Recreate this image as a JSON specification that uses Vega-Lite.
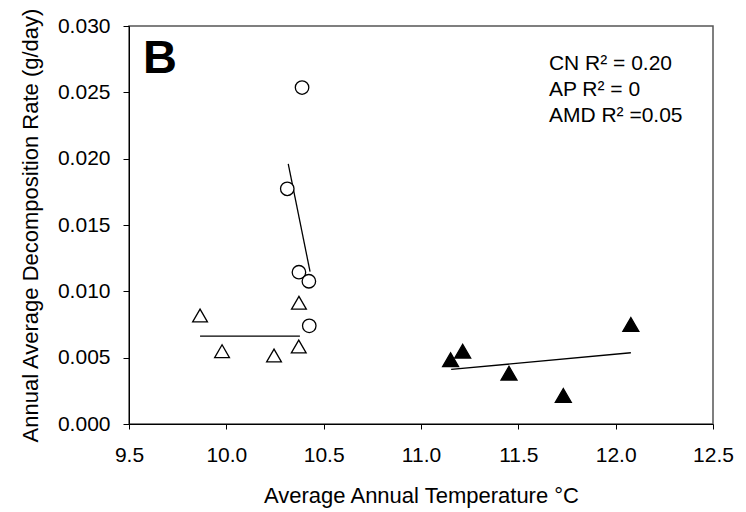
{
  "$schema": "https://vega.github.io/schema/vega-lite/v6.json",
  "width": 584,
  "height": 398,
  "autosize": {"type": "none"},
  "padding": {"left": 129, "top": 26, "right": 33, "bottom": 88},
  "background": "white",
  "config": {
    "font": "Liberation Sans",
    "view": {"stroke": "#555", "strokeWidth": 1.5},
    "axis": {
      "grid": false,
      "domainColor": "black",
      "tickColor": "black",
      "labelColor": "black",
      "titleColor": "black",
      "labelFontSize": 21,
      "titleFontSize": 22,
      "titleFontWeight": "normal",
      "labelFont": "Liberation Sans",
      "titleFont": "Liberation Sans"
    }
  },
  "datasets": {
    "points": [
      {"site": "CN", "temp": 10.389, "rate": 0.02536},
      {"site": "CN", "temp": 10.313, "rate": 0.01773},
      {"site": "CN", "temp": 10.373, "rate": 0.01144},
      {"site": "CN", "temp": 10.424, "rate": 0.01076},
      {"site": "CN", "temp": 10.426, "rate": 0.0074},
      {"site": "AP", "temp": 9.865, "rate": 0.00818},
      {"site": "AP", "temp": 9.978, "rate": 0.00549},
      {"site": "AP", "temp": 10.245, "rate": 0.00516},
      {"site": "AP", "temp": 10.373, "rate": 0.00914},
      {"site": "AP", "temp": 10.372, "rate": 0.00584},
      {"site": "AMD", "temp": 11.152, "rate": 0.00484},
      {"site": "AMD", "temp": 11.214, "rate": 0.00549},
      {"site": "AMD", "temp": 11.452, "rate": 0.00383},
      {"site": "AMD", "temp": 11.731, "rate": 0.00215},
      {"site": "AMD", "temp": 12.078, "rate": 0.0075}
    ],
    "fits": [
      {"site": "CN", "temp": 10.318, "rate": 0.01961},
      {"site": "CN", "temp": 10.43, "rate": 0.01149},
      {"site": "AP", "temp": 9.865, "rate": 0.00662},
      {"site": "AP", "temp": 10.378, "rate": 0.00662},
      {"site": "AMD", "temp": 11.155, "rate": 0.00411},
      {"site": "AMD", "temp": 12.078, "rate": 0.00537}
    ],
    "notes": [
      {"label": "CN R² = 0.20", "temp": 11.657, "rate": 0.0267},
      {"label": "AP R² = 0", "temp": 11.657, "rate": 0.02474},
      {"label": "AMD R² =0.05", "temp": 11.657, "rate": 0.02278}
    ],
    "panel": [
      {"label": "B", "temp": 9.572, "rate": 0.02649}
    ]
  },
  "encoding": {
    "x": {
      "field": "temp",
      "type": "quantitative",
      "scale": {"domain": [9.5, 12.5], "nice": false, "zero": false},
      "axis": {
        "title": "Average Annual Temperature °C",
        "values": [9.5, 10, 10.5, 11, 11.5, 12, 12.5],
        "format": ".1f",
        "tickSize": 5,
        "labelPadding": 15,
        "labelFlush": false,
        "labelOverlap": false,
        "titleY": 78,
        "titleBaseline": "alphabetic"
      }
    },
    "y": {
      "field": "rate",
      "type": "quantitative",
      "scale": {"domain": [0, 0.03], "nice": false, "zero": false},
      "axis": {
        "title": "Annual Average Decomposition Rate (g/day)",
        "values": [0, 0.005, 0.01, 0.015, 0.02, 0.025, 0.03],
        "format": ".3f",
        "tickSize": 6,
        "labelPadding": 13,
        "labelFlush": false,
        "labelOverlap": false,
        "titleX": -92,
        "titleY": 199,
        "titleBaseline": "alphabetic"
      }
    }
  },
  "layer": [
    {
      "data": {"name": "fits"},
      "mark": {"type": "line", "color": "black", "strokeWidth": 1.3},
      "encoding": {"detail": {"field": "site"}}
    },
    {
      "data": {"name": "points"},
      "mark": {"type": "point", "filled": true, "stroke": "black", "strokeWidth": 1.3, "opacity": 1},
      "encoding": {
        "shape": {"field": "site", "scale": {"domain": ["CN", "AP", "AMD"], "range": ["circle", "triangle-up", "triangle-up"]}, "legend": null},
        "fill": {"field": "site", "scale": {"domain": ["CN", "AP", "AMD"], "range": ["white", "white", "black"]}, "legend": null},
        "size": {"field": "site", "scale": {"domain": ["CN", "AP", "AMD"], "range": [182, 256, 256]}, "legend": null}
      }
    },
    {
      "data": {"name": "notes"},
      "mark": {"type": "text", "align": "left", "baseline": "alphabetic", "fontSize": 21, "color": "black"},
      "encoding": {"text": {"field": "label"}}
    },
    {
      "data": {"name": "panel"},
      "mark": {"type": "text", "align": "left", "baseline": "alphabetic", "fontSize": 47, "fontWeight": "bold", "color": "black"},
      "encoding": {"text": {"field": "label"}}
    }
  ]
}
